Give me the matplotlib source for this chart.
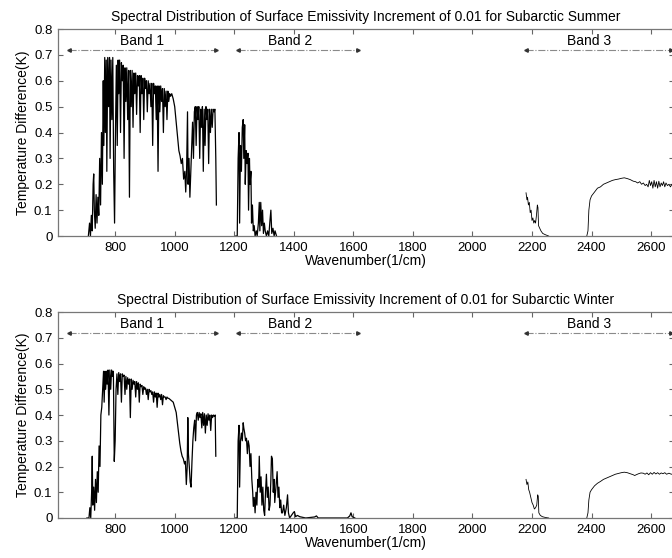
import numpy as np
import matplotlib.pyplot as plt
from matplotlib.ticker import FuncFormatter

plt.rcParams['font.family'] = ['Liberation Sans', 'DejaVu Sans']

# (wavenumber, temperature difference), one list per band
summer_band1 = [
    (710, 0.0), (714, 0.05), (717, 0.0), (720, 0.08), (723, 0.02), (726, 0.2),
    (728, 0.24), (730, 0.1), (733, 0.03), (736, 0.16), (739, 0.05), (742, 0.15),
    (745, 0.08), (748, 0.3), (751, 0.12), (754, 0.4), (757, 0.2), (760, 0.6),
    (762, 0.35), (765, 0.69), (767, 0.4), (770, 0.68), (772, 0.25), (775, 0.69),
    (778, 0.5), (781, 0.69), (783, 0.3), (786, 0.68), (789, 0.45), (792, 0.69),
    (795, 0.25), (798, 0.05), (801, 0.4), (804, 0.66), (807, 0.35), (810, 0.68),
    (812, 0.55), (815, 0.68), (818, 0.4), (821, 0.67), (824, 0.6), (827, 0.66),
    (830, 0.3), (833, 0.65), (836, 0.52), (839, 0.65), (842, 0.45), (845, 0.64),
    (848, 0.15), (851, 0.64), (854, 0.5), (857, 0.64), (860, 0.42), (863, 0.63),
    (866, 0.55), (869, 0.63), (872, 0.47), (875, 0.62), (878, 0.58), (881, 0.62),
    (884, 0.4), (887, 0.62), (890, 0.55), (893, 0.61), (896, 0.45), (899, 0.61),
    (902, 0.57), (905, 0.6), (908, 0.48), (911, 0.6), (914, 0.55), (917, 0.59),
    (920, 0.5), (923, 0.59), (926, 0.35), (929, 0.59), (932, 0.55), (935, 0.58),
    (938, 0.45), (941, 0.58), (944, 0.25), (947, 0.58), (950, 0.48), (953, 0.58),
    (956, 0.52), (959, 0.57), (962, 0.4), (965, 0.57), (968, 0.5), (971, 0.56),
    (974, 0.45), (977, 0.56), (980, 0.52), (983, 0.55), (986, 0.54), (990, 0.55),
    (995, 0.53), (1000, 0.5), (1005, 0.44), (1010, 0.38), (1014, 0.33), (1018, 0.31),
    (1022, 0.28), (1026, 0.3), (1030, 0.22), (1034, 0.25), (1037, 0.17), (1040, 0.26),
    (1043, 0.48), (1045, 0.2), (1048, 0.3), (1051, 0.15), (1054, 0.25), (1057, 0.35),
    (1060, 0.44), (1063, 0.3), (1066, 0.48), (1069, 0.5), (1072, 0.35), (1075, 0.5),
    (1078, 0.45), (1081, 0.5), (1084, 0.3), (1087, 0.49), (1090, 0.42), (1093, 0.5),
    (1096, 0.25), (1099, 0.49), (1102, 0.35), (1105, 0.5), (1108, 0.45), (1111, 0.49),
    (1114, 0.28), (1117, 0.49), (1120, 0.4), (1123, 0.49), (1126, 0.42), (1129, 0.49),
    (1132, 0.48), (1135, 0.49), (1138, 0.3), (1140, 0.12),
]
summer_band2 = [
    (1205, 0.0), (1210, 0.0), (1213, 0.3), (1216, 0.4), (1218, 0.05), (1221, 0.35),
    (1224, 0.25), (1227, 0.42), (1230, 0.45), (1232, 0.3), (1235, 0.43), (1237, 0.2),
    (1240, 0.33), (1243, 0.28), (1246, 0.32), (1248, 0.1), (1251, 0.3), (1253, 0.2),
    (1256, 0.25), (1258, 0.05), (1261, 0.12), (1264, 0.02), (1267, 0.04), (1270, 0.0),
    (1274, 0.02), (1277, 0.0), (1281, 0.05), (1284, 0.13), (1286, 0.02), (1289, 0.13),
    (1292, 0.04), (1295, 0.1), (1298, 0.01), (1301, 0.05), (1304, 0.02), (1308, 0.0),
    (1312, 0.02), (1316, 0.0), (1320, 0.06), (1323, 0.1), (1326, 0.01), (1330, 0.03),
    (1334, 0.0), (1337, 0.02), (1342, 0.0),
]
summer_band3a = [
    (2180, 0.167), (2183, 0.14), (2185, 0.15), (2188, 0.12), (2191, 0.13), (2194, 0.09),
    (2197, 0.1), (2200, 0.06), (2203, 0.07), (2206, 0.05), (2209, 0.06), (2212, 0.05),
    (2215, 0.08), (2218, 0.12), (2220, 0.11), (2222, 0.04), (2226, 0.03), (2230, 0.02),
    (2236, 0.01), (2245, 0.005), (2256, 0.0),
]
summer_band3b = [
    (2384, 0.0), (2388, 0.02), (2391, 0.1), (2395, 0.14), (2400, 0.155), (2410, 0.17),
    (2420, 0.185), (2430, 0.19), (2440, 0.2), (2450, 0.205), (2460, 0.21), (2470, 0.215),
    (2480, 0.218), (2490, 0.22), (2500, 0.223), (2510, 0.225), (2520, 0.222), (2530, 0.218),
    (2540, 0.212), (2548, 0.21), (2555, 0.205), (2562, 0.21), (2568, 0.2), (2574, 0.205),
    (2580, 0.195), (2585, 0.2), (2590, 0.19), (2594, 0.215), (2598, 0.195), (2602, 0.21),
    (2606, 0.185), (2610, 0.215), (2614, 0.19), (2618, 0.21), (2622, 0.185), (2626, 0.212),
    (2630, 0.19), (2634, 0.205), (2638, 0.195), (2642, 0.21), (2646, 0.19), (2650, 0.205),
    (2655, 0.195), (2660, 0.2), (2665, 0.19), (2670, 0.2), (2677, 0.195),
]

winter_band1 = [
    (705, 0.0), (712, 0.0), (715, 0.04), (718, 0.0), (721, 0.1), (723, 0.24),
    (725, 0.05), (728, 0.12), (731, 0.03), (734, 0.15), (737, 0.06), (740, 0.18),
    (743, 0.1), (746, 0.28), (749, 0.2), (752, 0.4), (755, 0.43), (758, 0.5),
    (761, 0.57), (763, 0.45), (766, 0.57), (768, 0.5), (771, 0.57), (773, 0.52),
    (776, 0.575), (779, 0.4), (782, 0.575), (785, 0.5), (788, 0.575), (791, 0.55),
    (794, 0.57), (797, 0.22), (800, 0.3), (803, 0.5), (806, 0.56), (809, 0.48),
    (812, 0.565), (815, 0.53), (818, 0.56), (821, 0.45), (824, 0.56), (827, 0.55),
    (830, 0.555), (833, 0.48), (836, 0.55), (839, 0.5), (842, 0.545), (845, 0.52),
    (848, 0.54), (851, 0.39), (854, 0.54), (857, 0.5), (860, 0.535), (863, 0.52),
    (866, 0.53), (869, 0.47), (872, 0.53), (875, 0.5), (878, 0.525), (881, 0.45),
    (884, 0.52), (887, 0.51), (890, 0.515), (893, 0.48), (896, 0.51), (899, 0.5),
    (902, 0.505), (905, 0.48), (908, 0.5), (911, 0.46), (914, 0.5), (917, 0.49),
    (920, 0.495), (923, 0.48), (926, 0.49), (929, 0.45), (932, 0.49), (935, 0.47),
    (938, 0.485), (941, 0.43), (944, 0.485), (947, 0.47), (950, 0.48), (953, 0.46),
    (956, 0.48), (959, 0.44), (962, 0.475), (965, 0.47), (968, 0.47), (971, 0.46),
    (974, 0.47), (977, 0.465), (980, 0.465), (985, 0.46), (990, 0.455), (995, 0.45),
    (1000, 0.43), (1005, 0.41), (1009, 0.37), (1013, 0.33), (1017, 0.29), (1021, 0.26),
    (1025, 0.24), (1029, 0.23), (1033, 0.21), (1036, 0.22), (1039, 0.13), (1042, 0.2),
    (1044, 0.39), (1046, 0.25), (1049, 0.2), (1052, 0.14), (1055, 0.12), (1058, 0.22),
    (1061, 0.3), (1064, 0.35), (1067, 0.38), (1070, 0.3), (1073, 0.4), (1076, 0.41),
    (1079, 0.38), (1082, 0.41), (1085, 0.39), (1088, 0.405), (1091, 0.35), (1094, 0.41),
    (1097, 0.36), (1100, 0.405), (1103, 0.33), (1106, 0.4), (1109, 0.36), (1112, 0.405),
    (1115, 0.38), (1118, 0.4), (1121, 0.34), (1124, 0.4), (1127, 0.39), (1130, 0.4),
    (1133, 0.395), (1136, 0.4), (1138, 0.24),
]
winter_band2 = [
    (1205, 0.0), (1210, 0.0), (1213, 0.3), (1216, 0.36), (1218, 0.12), (1221, 0.3),
    (1224, 0.33), (1227, 0.3), (1230, 0.37), (1232, 0.35), (1235, 0.33), (1238, 0.3),
    (1241, 0.31), (1244, 0.25), (1247, 0.3), (1250, 0.28), (1253, 0.2), (1256, 0.25),
    (1259, 0.15), (1262, 0.1), (1264, 0.045), (1267, 0.08), (1270, 0.02), (1273, 0.1),
    (1276, 0.05), (1279, 0.15), (1282, 0.12), (1284, 0.24), (1287, 0.1), (1290, 0.16),
    (1293, 0.05), (1296, 0.12), (1299, 0.03), (1302, 0.01), (1305, 0.1), (1308, 0.17),
    (1311, 0.08), (1314, 0.12), (1317, 0.03), (1320, 0.05), (1323, 0.15), (1325, 0.24),
    (1328, 0.23), (1331, 0.1), (1334, 0.15), (1336, 0.06), (1340, 0.12), (1344, 0.18),
    (1347, 0.08), (1350, 0.12), (1353, 0.04), (1356, 0.07), (1359, 0.02), (1362, 0.02),
    (1366, 0.05), (1370, 0.01), (1375, 0.04), (1379, 0.09), (1382, 0.02), (1386, 0.0),
    (1392, 0.01), (1398, 0.02), (1402, 0.025), (1406, 0.005), (1412, 0.01), (1420, 0.005),
    (1440, 0.0), (1470, 0.004), (1476, 0.008), (1482, 0.0), (1580, 0.0), (1588, 0.008),
    (1592, 0.02), (1596, 0.005), (1605, 0.0),
]
winter_band3a = [
    (2180, 0.15), (2183, 0.13), (2186, 0.14), (2189, 0.11), (2192, 0.1), (2196, 0.08),
    (2200, 0.06), (2204, 0.05), (2208, 0.035), (2212, 0.04), (2216, 0.05), (2219, 0.09),
    (2221, 0.085), (2223, 0.02), (2228, 0.01), (2235, 0.005), (2245, 0.002), (2256, 0.0),
]
winter_band3b = [
    (2384, 0.0), (2388, 0.02), (2391, 0.07), (2395, 0.1), (2400, 0.11), (2410, 0.125),
    (2420, 0.135), (2430, 0.142), (2440, 0.15), (2450, 0.155), (2460, 0.16), (2470, 0.165),
    (2480, 0.17), (2490, 0.173), (2500, 0.176), (2510, 0.178), (2520, 0.176), (2530, 0.172),
    (2540, 0.168), (2545, 0.165), (2550, 0.168), (2558, 0.172), (2566, 0.175), (2574, 0.174),
    (2580, 0.17), (2586, 0.175), (2592, 0.168), (2598, 0.176), (2604, 0.17), (2610, 0.177),
    (2616, 0.171), (2622, 0.176), (2628, 0.17), (2634, 0.175), (2640, 0.172), (2646, 0.176),
    (2652, 0.17), (2660, 0.174), (2668, 0.17), (2677, 0.172),
]

band_names = ['Band 1', 'Band 2', 'Band 3']
band_start = [645, 1213, 2180]
band_end = [1140, 1614, 2668]
band_label_x = [889, 1387, 2391]
band_y = 0.72

titles = [
    'Spectral Distribution of Surface Emissivity Increment of 0.01 for Subarctic Summer',
    'Spectral Distribution of Surface Emissivity Increment of 0.01 for Subarctic Winter',
]

fig = plt.figure(figsize=(6.72, 5.58), dpi=100)
ax1 = fig.add_axes([0.0863, 0.577, 0.9167, 0.371])
ax2 = fig.add_axes([0.0863, 0.0717, 0.9167, 0.369])

panels = [
    (ax1, [summer_band1, summer_band2, summer_band3a, summer_band3b], titles[0]),
    (ax2, [winter_band1, winter_band2, winter_band3a, winter_band3b], titles[1]),
]

for ax, segments, title in panels:
    for i, seg in enumerate(segments):
        wn, t = np.array(seg).T
        # band 1 and 2 are dense line spectra, drawn heavier like the original
        ax.plot(wn, t, color='black', lw=0.9 if i < 2 else 0.6)

    for name, s, e, lx in zip(band_names, band_start, band_end, band_label_x):
        ax.plot([s, e], [band_y, band_y], linestyle='-.', color='#8a8a8a', lw=0.8)
        ax.plot([s], [band_y], marker='<', ms=2.5, color='#333333')
        ax.plot([e], [band_y], marker='>', ms=2.5, color='#333333')
        ax.text(lx, 0.755, name, ha='center', va='center', fontsize=10)

    ax.set_xlim(608, 2677)
    ax.set_ylim(0, 0.8)
    ax.set_xticks([800, 1000, 1200, 1400, 1600, 1800, 2000, 2200, 2400, 2600])
    ax.set_yticks([0, 0.1, 0.2, 0.3, 0.4, 0.5, 0.6, 0.7, 0.8])
    ax.yaxis.set_major_formatter(FuncFormatter(lambda v, p: '0' if v == 0 else '%.1f' % v))
    ax.tick_params(direction='in', top=True, right=True, length=3.5, color='#666666',
                   labelsize=9.5, pad=4)
    for sp in ax.spines.values():
        sp.set_color('#777777')
        sp.set_linewidth(0.9)
    ax.set_title(title, fontsize=10, pad=6)
    ax.set_xlabel('Wavenumber(1/cm)', fontsize=10, labelpad=0)
    ax.set_ylabel('Temperature Difference(K)', fontsize=10, labelpad=3)

fig.savefig('out.png', dpi=100)
